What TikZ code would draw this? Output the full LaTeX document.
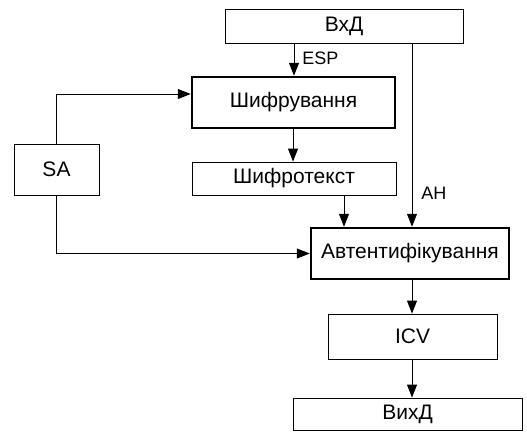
\documentclass[tikz,border=0pt]{standalone}
\usepackage{fontspec}
\setmainfont{Liberation Sans}
\usetikzlibrary{arrows.meta}
\begin{document}
\begin{tikzpicture}[x=1pt,y=-1pt,
  box/.style={draw,line width=0.9pt,inner sep=0pt,font=\fontsize{21}{21}\selectfont},
  thickbox/.style={draw,line width=2.5pt,inner sep=0pt,font=\fontsize{21}{21}\selectfont},
  conn/.style={line width=0.9pt,-{Triangle[length=13pt,width=10pt]}},
  lbl/.style={font=\fontsize{18}{18}\selectfont,inner sep=0pt}]
\useasboundingbox (0,0) rectangle (527,432);
\node[box,minimum width=238pt,minimum height=34pt] (vhd) at (344,26) {ВхД};
\node[thickbox,minimum width=203pt,minimum height=51pt] (shyf) at (293.5,102.5) {Шифрування};
\node[box,minimum width=85pt,minimum height=51pt] (sa) at (56.5,169.5) {SA};
\node[box,minimum width=204pt,minimum height=33pt] (st) at (294,178.5) {Шифротекст};
\node[thickbox,minimum width=198pt,minimum height=51pt] (auth) at (410,253.5) {Автентифікування};
\node[box,minimum width=169pt,minimum height=45pt] (icv) at (412.5,336.5) {ICV};
\node[box,minimum width=229pt,minimum height=32pt] (vyh) at (407.5,414) {ВихД};
\draw[conn] (vhd.south -| 294,0) -- node[lbl,right=8pt,yshift=1pt] {ESP} (shyf.north -| 294,0);
\draw[conn] (vhd.south -| 412,0) -- (auth.north -| 412,0) node[lbl,pos=0.82,right=9pt] {AH};
\draw[conn] (sa.north) |- (shyf.west |- 0,94);
\draw[conn] (sa.south) |- (auth.west);
\draw[conn] (shyf.south -| 293,0) -- (st.north -| 293,0);
\draw[conn] (st.south -| 344,0) -- (auth.north -| 344,0);
\draw[conn] (auth.south -| 412,0) -- (icv.north -| 412,0);
\draw[conn] (icv.south -| 412,0) -- (vyh.north -| 412,0);
\end{tikzpicture}
\end{document}
